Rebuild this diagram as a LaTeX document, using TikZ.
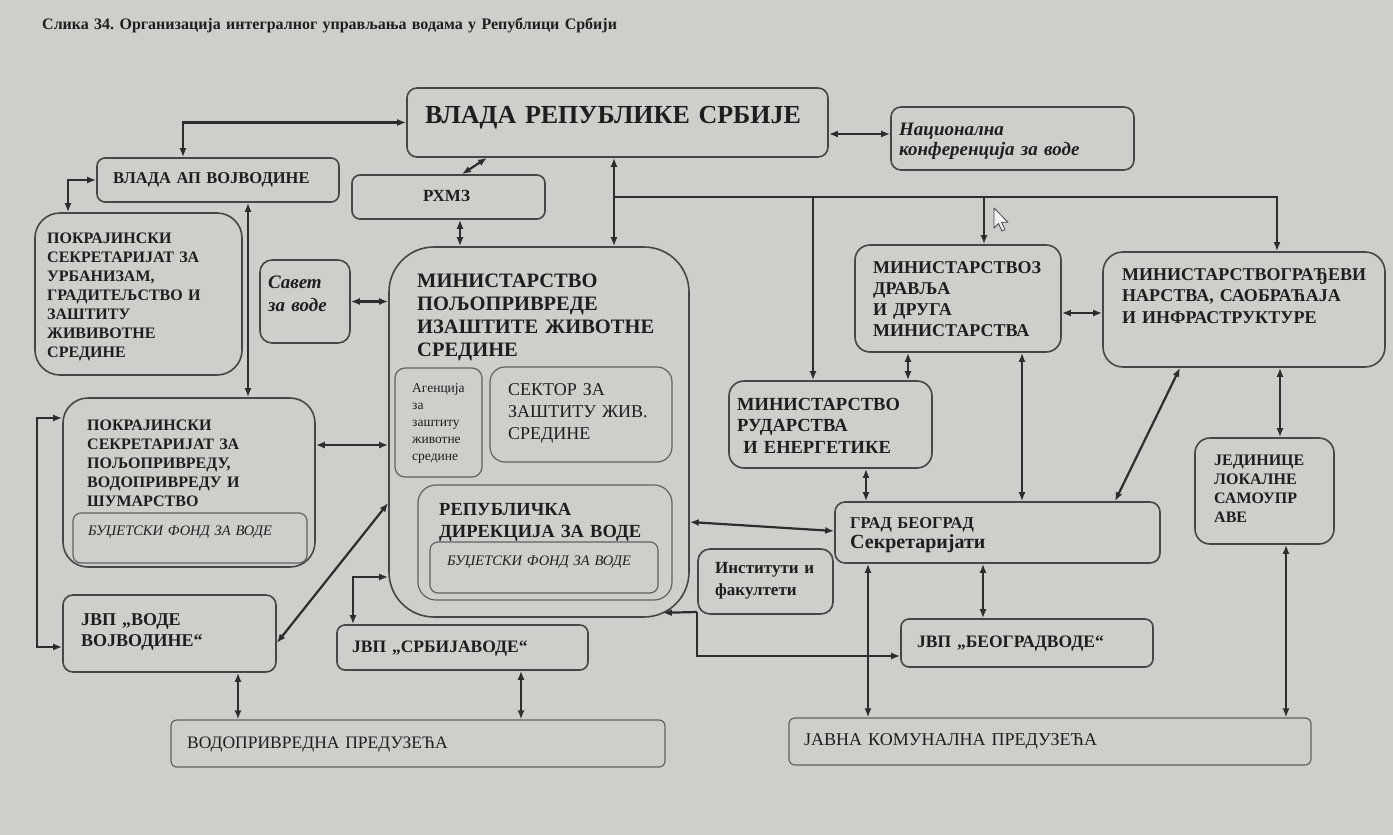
\documentclass[tikz,border=0pt]{standalone}
\usepackage{fontspec}
\setmainfont{Liberation Serif}
\usetikzlibrary{arrows.meta,fit}
\definecolor{bgc}{RGB}{206,206,202}
\definecolor{lnc}{RGB}{45,45,45}
\definecolor{bxc}{RGB}{70,70,70}
\definecolor{txc}{RGB}{30,30,30}
\newcommand\fz[2]{\fontsize{#1}{#2}\selectfont}
\frenchspacing
\begin{document}
\begin{tikzpicture}[x=1pt,y=-1pt,
 >={Latex[length=9pt,width=7pt]},
 bx/.style={draw=bxc, line width=1.6pt, inner sep=0pt, rounded corners=#1},
 bx/.default=8pt,
 ibx/.style={draw=bxc!85, line width=1.2pt, inner sep=0pt, rounded corners=#1},
 ibx/.default=8pt,
 txt/.style={inner sep=0pt, anchor=base west, align=left, text width=420pt, text=txc},
 dbl/.style={<->, draw=lnc, line width=2.2pt},
 sarr/.style={->, draw=lnc, line width=2.2pt},
 bus/.style={draw=lnc, line width=2.2pt}]
\fill[bgc] (0,0) rectangle (1393,835);
\useasboundingbox (0,0) rectangle (1393,835);

% title
\node[txt, text width=900pt, font=\bfseries\fz{16}{20}] (title) at (42,29) {Слика 34. Организација интегралног управљања водама у Републици Србији};

% boxes
\node[bx=10pt, fit={(407,88) (828,157)}] (vs) {};
\node[bx=10pt, fit={(891,107) (1134,170)}] (nk) {};
\node[bx=8pt, fit={(97,158) (339,202)}] (vap) {};
\node[bx=8pt, fit={(352,175) (545,219)}] (rhmz) {};
\node[bx=25pt, fit={(35,213) (242,375)}] (pu) {};
\node[bx=12pt, fit={(260,260) (350,343)}] (sv) {};
\node[bx=45pt, fit={(389,247) (689,617)}] (mp) {};
\node[ibx=10pt, fit={(395,368) (482,477)}] (ag) {};
\node[ibx=15pt, fit={(490,367) (672,462)}] (sek) {};
\node[ibx=18pt, fit={(418,485) (672,600)}] (rd) {};
\node[ibx=8pt, fit={(430,542) (658,593)}] (rdf) {};
\node[bx=25pt, fit={(63,398) (315,567)}] (pp) {};
\node[ibx=8pt, fit={(73,513) (307,563)}] (ppf) {};
\node[bx=10pt, fit={(63,595) (276,672)}] (vv) {};
\node[bx=8pt, fit={(337,625) (588,670)}] (sbv) {};
\node[ibx=6pt, fit={(171,720) (665,767)}] (vp) {};
\node[bx=15pt, fit={(729,381) (932,468)}] (mr) {};
\node[bx=15pt, fit={(855,245) (1061,352)}] (mz) {};
\node[bx=20pt, fit={(1103,252) (1385,367)}] (mg) {};
\node[bx=10pt, fit={(835,502) (1160,563)}] (gb) {};
\node[bx=12pt, fit={(698,549) (833,614)}] (inst) {};
\node[bx=8pt, fit={(901,619) (1153,667)}] (bv) {};
\node[bx=15pt, fit={(1195,438) (1334,544)}] (jls) {};
\node[ibx=6pt, fit={(789,718) (1311,765)}] (jkp) {};

% texts
\node[txt, font=\bfseries\fz{26}{30}] (tvs) at (425,123) {ВЛАДА РЕПУБЛИКЕ СРБИЈЕ};
\node[txt, font=\bfseries\itshape\fz{19}{20}] (tnk) at (899,135) {Национална\\конференција за воде};
\node[txt, font=\bfseries\fz{16.5}{19}] (tvap) at (113,183) {ВЛАДА АП ВОЈВОДИНЕ};
\node[txt, font=\bfseries\fz{17}{19}] (trhmz) at (423,201) {РХМЗ};
\node[txt, font=\bfseries\fz{16}{19}] (tpu) at (47,243) {ПОКРАЈИНСКИ\\СЕКРЕТАРИЈАТ ЗА\\УРБАНИЗАМ,\\ГРАДИТЕЉСТВО И\\ЗАШТИТУ\\ЖИВИВОТНЕ\\СРЕДИНЕ};
\node[txt, font=\bfseries\itshape\fz{19}{23}] (tsv) at (268,288) {Савет\\за воде};
\node[txt, font=\bfseries\fz{20.5}{23.3}] (tmp) at (417,287) {МИНИСТАРСТВО\\ПОЉОПРИВРЕДЕ\\ИЗАШТИТЕ ЖИВОТНЕ\\СРЕДИНЕ};
\node[txt, font=\fz{13.5}{17}] (tag) at (412,392) {Агенција\\за\\заштиту\\животне\\средине};
\node[txt, font=\fz{18}{22}] (tsek) at (508,395) {СЕКТОР ЗА\\ЗАШТИТУ ЖИВ.\\СРЕДИНЕ};
\node[txt, font=\bfseries\fz{18.5}{22}] (trd) at (439,515) {РЕПУБЛИЧКА\\ДИРЕКЦИЈА ЗА ВОДЕ};
\node[txt, font=\itshape\fz{14.5}{17}] (trdf) at (447,565) {БУЏЕТСКИ ФОНД ЗА ВОДЕ};
\node[txt, font=\bfseries\fz{16}{19}] (tpp) at (87,430) {ПОКРАЈИНСКИ\\СЕКРЕТАРИЈАТ ЗА\\ПОЉОПРИВРЕДУ,\\ВОДОПРИВРЕДУ И\\ШУМАРСТВО};
\node[txt, font=\itshape\fz{14.5}{17}] (tppf) at (88,535) {БУЏЕТСКИ ФОНД ЗА ВОДЕ};
\node[txt, font=\bfseries\fz{18}{21}] (tvv) at (81,625) {ЈВП „ВОДЕ\\ВОЈВОДИНЕ“};
\node[txt, font=\bfseries\fz{17.5}{20}] (tsbv) at (352,652) {ЈВП „СРБИЈАВОДЕ“};
\node[txt, font=\fz{17.5}{20}] (tvp) at (187,748) {ВОДОПРИВРЕДНА ПРЕДУЗЕЋА};
\node[txt, font=\bfseries\fz{18.5}{21.5}] (tmr) at (737,410) {МИНИСТАРСТВО\\РУДАРСТВА\\\ И ЕНЕРГЕТИКЕ};
\node[txt, font=\bfseries\fz{18}{21}] (tmz) at (873,273) {МИНИСТАРСТВОЗ\\ДРАВЉА\\И ДРУГА\\МИНИСТАРСТВА};
\node[txt, font=\bfseries\fz{18}{21.5}] (tmg) at (1122,280) {МИНИСТАРСТВОГРАЂЕВИ\\НАРСТВА, САОБРАЋАЈА\\И ИНФРАСТРУКТУРЕ};
\node[txt, font=\bfseries\fz{16.5}{20}] (tgb1) at (850,528) {ГРАД БЕОГРАД};
\node[txt, font=\bfseries\fz{20}{22}] (tgb2) at (850,548) {Секретаријати};
\node[txt, font=\bfseries\fz{17}{22}] (tinst) at (715,573) {Институти и\\факултети};
\node[txt, font=\bfseries\fz{17.5}{20}] (tbv) at (917,647) {ЈВП „БЕОГРАДВОДЕ“};
\node[txt, font=\bfseries\fz{16}{19}] (tjls) at (1214,465) {ЈЕДИНИЦЕ\\ЛОКАЛНЕ\\САМОУПР\\АВЕ};
\node[txt, font=\fz{18}{20}] (tjkp) at (804,745) {ЈАВНА КОМУНАЛНА ПРЕДУЗЕЋА};

% connectors
\draw[dbl] (183,0 |- vap.north) |- (vs.west);
\draw[dbl] (vs.east |- 0,134) -- (nk.west |- 0,134);
\draw[dbl] (487,0 |- vs.south) -- (462,0 |- rhmz.north);
\draw[dbl] (614,0 |- vs.south) -- (614,0 |- mp.north);
\draw[dbl] (460,0 |- rhmz.south) -- (460,0 |- mp.north);
\coordinate (busL) at (614,197);
\draw[sarr] (busL) -| (1277,0 |- mg.north);
\draw[sarr] (813,0 |- busL) -- (813,0 |- mr.north);
\draw[sarr] (984,0 |- busL) -- (984,0 |- mz.north);
\draw[dbl] (vap.west) -| (68,0 |- pu.north);
\draw[dbl] (248,0 |- vap.south) -- (248,0 |- pp.north);
\draw[dbl] (sv.east) -- (sv.east -| mp.west);
\draw[dbl] (pp.east |- 0,445) -- (mp.west |- 0,445);
\draw[dbl] (pp.west |- 0,418) -- (37,418) |- (vv.west |- 0,647);
\draw[dbl] (vv.east |- 0,643) -- (mp.west |- 0,503);
\draw[dbl] (353,0 |- sbv.north) |- (mp.west |- 0,577);
\draw[dbl] (238,0 |- vv.south) -- (238,0 |- vp.north);
\draw[dbl] (521,0 |- sbv.south) -- (521,0 |- vp.north);
\draw[dbl] (mz.east |- 0,313) -- (mg.west |- 0,313);
\draw[dbl] (908,0 |- mz.south) -- (908,0 |- mr.north);
\draw[dbl] (1022,0 |- mz.south) -- (1022,0 |- gb.north);
\draw[dbl] (866,0 |- mr.south) -- (866,0 |- gb.north);
\draw[dbl] (1180,0 |- mg.south) -- (1115,0 |- gb.north);
\draw[dbl] (1280,0 |- mg.south) -- (1280,0 |- jls.north);
\draw[dbl] (1286,0 |- jls.south) -- (1286,0 |- jkp.north);
\draw[dbl] (mp.east |- 0,522) -- (gb.west |- 0,531);
\draw[dbl] (983,0 |- gb.south) -- (983,0 |- bv.north);
\draw[dbl] (868,0 |- gb.south) -- (868,0 |- jkp.north);
\coordinate (ij) at (697,612);
\draw[sarr] (ij) -- ([shift={(-27,-5)}]mp.south east);
\draw[sarr] (ij) |- (bv.west |- 0,656);

% mouse pointer
\draw[fill=white!90!gray, draw=bxc, line width=0.8pt, line join=round] (994,208) -- ++(0,20) -- ++(4.5,-4.5) -- ++(3.5,7.5) -- ++(3,-1.4) -- ++(-3.5,-7.3) -- ++(6.5,0) -- cycle;
\end{tikzpicture}
\end{document}
